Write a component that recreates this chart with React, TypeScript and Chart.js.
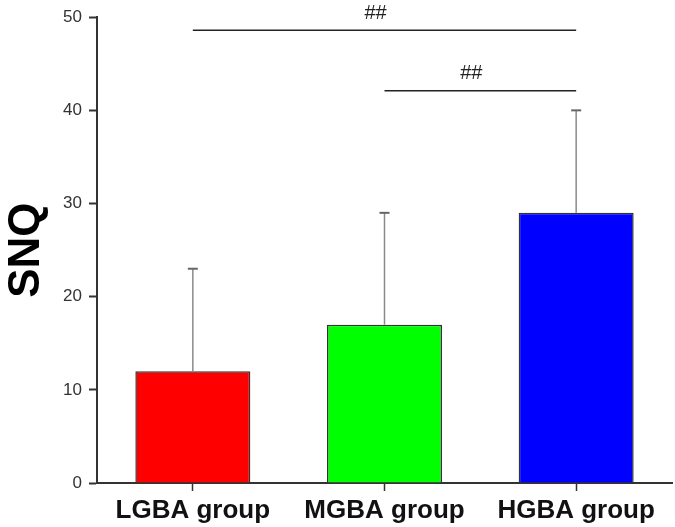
import React, { useEffect, useRef } from "react";
import { Chart, registerables } from "chart.js";

Chart.register(...registerables);

const categories = ["LGBA group", "MGBA group", "HGBA group"];
const means = [12, 17, 29];
const errorTops = [23, 29, 40];
const barColors = ["#FF0000", "#00FF00", "#0000FF"];
const sigFrom = [0, 1];
const sigTo = [2, 2];
const sigLevel = [48.6, 42.1];
const sigLabel = ["##", "##"];
const yTicks = [0, 10, 20, 30, 40, 50];

const overlayPlugin = {
  id: "overlay",
  afterDatasetsDraw(chart: any) {
    const ctx = chart.ctx;
    const x = chart.scales.x;
    const y = chart.scales.y;
    const meta = chart.getDatasetMeta(0);
    ctx.save();
    // error bars
    meta.data.forEach((bar: any, i: number) => {
      const px = bar.x;
      const yTop = y.getPixelForValue(errorTops[i]);
      const yBase = y.getPixelForValue(means[i]);
      ctx.strokeStyle = "#8a8a8a";
      ctx.lineWidth = 1.5;
      ctx.beginPath();
      ctx.moveTo(px, yBase);
      ctx.lineTo(px, yTop);
      ctx.stroke();
      ctx.strokeStyle = "#666";
      ctx.lineWidth = 2;
      ctx.beginPath();
      ctx.moveTo(px - 5, yTop);
      ctx.lineTo(px + 5, yTop);
      ctx.stroke();
    });
    // significance lines
    sigFrom.forEach((f, i) => {
      const x1 = x.getPixelForValue(f);
      const x2 = x.getPixelForValue(sigTo[i]);
      const py = y.getPixelForValue(sigLevel[i]);
      ctx.strokeStyle = "#222";
      ctx.lineWidth = 1.5;
      ctx.beginPath();
      ctx.moveTo(x1, py);
      ctx.lineTo(x2, py);
      ctx.stroke();
      ctx.fillStyle = "#222";
      ctx.font = "20px 'Liberation Sans', Arial, sans-serif";
      ctx.textAlign = "center";
      ctx.textBaseline = "middle";
      ctx.fillText(sigLabel[i], (x1 + x2) / 2 - 9, py - 17);
    });
    ctx.restore();
  },
};

export default function App() {
  const ref = useRef<HTMLCanvasElement>(null);
  useEffect(() => {
    document.body.style.margin = "0";
    const chart = new Chart(ref.current as HTMLCanvasElement, {
      type: "bar",
      data: {
        labels: categories,
        datasets: [
          {
            data: means,
            backgroundColor: barColors,
            borderColor: "#333",
            borderWidth: 1.5,
            barPercentage: 0.6,
            categoryPercentage: 1,
          },
        ],
      },
      options: {
        animation: false,
        responsive: false,
        maintainAspectRatio: false,
        layout: { padding: { top: 16, right: 3, left: 0, bottom: 0 } },
        plugins: { legend: { display: false }, tooltip: { enabled: false } },
        scales: {
          x: {
            offset: true,
            grid: {
              display: true,
              drawOnChartArea: false,
              drawTicks: true,
              tickLength: 8,
              tickColor: "#333",
              tickWidth: 1.5,
              offset: false,
            },
            border: { display: true, color: "#333", width: 2 },
            ticks: {
              color: "#111",
              font: { family: "'Liberation Sans', Arial, sans-serif", size: 26, weight: "bold" },
              padding: 4,
              maxRotation: 0,
            },
            afterFit(scale: any) {
              scale.height = 44;
            },
          },
          y: {
            min: 0,
            max: 50,
            afterBuildTicks(scale: any) {
              scale.ticks = yTicks.map((v) => ({ value: v }));
            },
            grid: {
              display: true,
              drawOnChartArea: false,
              drawTicks: true,
              tickLength: 8,
              tickColor: "#333",
              tickWidth: 2,
            },
            border: { display: true, color: "#333", width: 2 },
            ticks: {
              color: "#333",
              font: { family: "'Liberation Sans', Arial, sans-serif", size: 17 },
              padding: 7,
            },
            title: {
              display: true,
              text: "SNQ",
              color: "#000",
              font: { family: "'Liberation Sans', Arial, sans-serif", size: 44, weight: "bold" },
              padding: 0,
            },
            afterFit(scale: any) {
              scale.width = 97;
            },
          },
        },
      },
      plugins: [overlayPlugin],
    });
    return () => chart.destroy();
  }, []);
  return (
    <div style={{ width: 675, height: 527 }}>
      <canvas ref={ref} width={675} height={527} style={{ display: "block" }} />
    </div>
  );
}
